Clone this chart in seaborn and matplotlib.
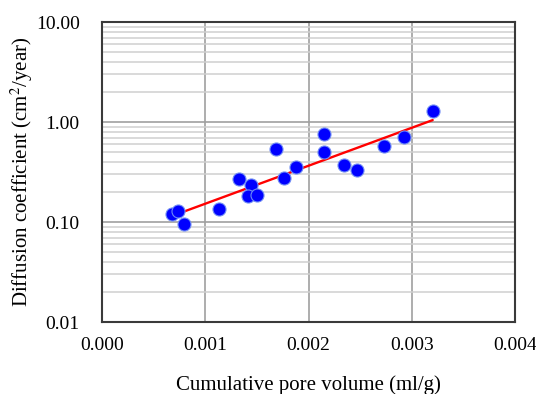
import numpy as np
import pandas as pd
import matplotlib
matplotlib.use("Agg")
import matplotlib.pyplot as plt
import seaborn as sns
from matplotlib.ticker import LogLocator, FixedLocator, FormatStrFormatter, NullFormatter

# Data
pore_volume = [0.000680, 0.000737, 0.000792, 0.001130, 0.001330, 0.001444, 0.001415,
               0.001505, 0.001689, 0.001763, 0.001883, 0.002154, 0.002147, 0.002344,
               0.002467, 0.002735, 0.002928, 0.003202]
diffusion = [0.120, 0.128, 0.095, 0.134, 0.269, 0.236, 0.183,
             0.186, 0.541, 0.277, 0.355, 0.759, 0.501, 0.374,
             0.334, 0.575, 0.703, 1.28]
x_ticks = [0.000, 0.001, 0.002, 0.003, 0.004]
y_ticks = [0.01, 0.1, 1, 10]

df = pd.DataFrame({"x": pore_volume, "y": diffusion})

# exponential trend line (linear in log10 y)
b, a = np.polyfit(df["x"], np.log10(df["y"]), 1)
xs = np.array([df["x"].min(), df["x"].max()])
trend = pd.DataFrame({"x": xs, "y": 10 ** (a + b * xs)})

sns.set_style("white")
plt.rcParams["font.family"] = ["Liberation Serif", "DejaVu Serif"]
plt.rcParams["mathtext.fontset"] = "stix"
plt.rcParams["text.color"] = "black"
plt.rcParams["axes.labelcolor"] = "black"

fig = plt.figure(figsize=(5.36, 3.94), dpi=100)
ax = fig.add_axes([0.1903, 0.1827, 0.7707, 0.7614])

ax.set_yscale("log")
ax.set_xlim(0, 0.004)
ax.set_ylim(0.01, 10)

ax.xaxis.set_major_locator(FixedLocator(x_ticks))
ax.xaxis.set_major_formatter(FormatStrFormatter("%.3f"))
ax.yaxis.set_major_locator(FixedLocator(y_ticks))
ax.yaxis.set_major_formatter(FormatStrFormatter("%.2f"))
ax.yaxis.set_minor_locator(LogLocator(base=10, subs=np.arange(2, 10), numticks=20))
ax.yaxis.set_minor_formatter(NullFormatter())

ax.grid(which="major", axis="both", color="#a0a0a0", linewidth=1.2, zorder=0)
ax.grid(which="minor", axis="y", color="#cfcfcf", linewidth=1.1, zorder=0)
ax.set_axisbelow(True)

sns.lineplot(data=trend, x="x", y="y", ax=ax, color="#ff0000", linewidth=1.7, zorder=2)
sns.scatterplot(data=df, x="x", y="y", ax=ax, color="#0000ff", s=88,
                edgecolor="#6f8cf5", linewidth=0.8, zorder=3)

ax.tick_params(axis="both", which="both", length=0, labelsize=14, colors="black")
ax.tick_params(axis="y", pad=16)
ax.tick_params(axis="x", pad=11)

for s in ax.spines.values():
    s.set_color("#3a3a3a")
    s.set_linewidth(1.5)

ax.set_xlabel("Cumulative pore volume (ml/g)", fontsize=15, labelpad=15, color="black")
ax.set_ylabel("Diffusion coefficient (cm$^2$/year)", fontsize=15, labelpad=1, color="black")

fig.savefig("out.png", dpi=100)
